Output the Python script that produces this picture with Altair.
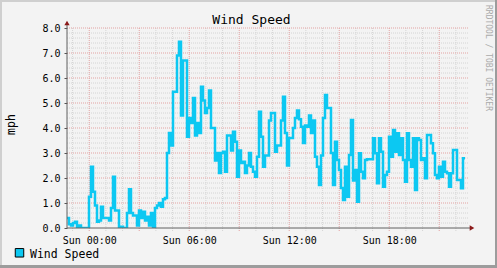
import altair as alt
import pandas as pd
import numpy as np

TITLE = "Wind Speed"
SERIES = "Wind Speed"
Y_TITLE = "mph"
WATERMARK = "RRDTOOL / TOBI OETIKER"

# wind speed (mph), one reading every 7.2 minutes starting Sat 22:40
speed = [
    0.4, 0.15, 0.1, 0.2, 0.25, 0.05, 0.1, 0.0, 0.0, 0.0,
    0.0, 1.25, 2.45, 1.45, 0.9, 0.25, 0.3, 0.85, 0.4, 0.4,
    0.4, 0.3, 0.8, 2.05, 0.7, 0.7, 0.0, 0.05, 0.0, 0.0,
    0.6, 1.55, 0.6, 0.5, 0.5, 0.1, 0.7, 0.4, 0.65, 0.3,
    0.45, 0.1, 0.6, 0.0, 0.8, 0.9, 1.0, 0.85, 1.15, 1.2,
    3.0, 3.8, 3.3, 5.45, 5.45, 6.9, 7.45, 4.5, 6.7, 6.7,
    3.65, 4.4, 4.2, 5.2, 3.7, 4.2, 3.8, 5.65, 5.1, 4.6,
    4.8, 5.5, 4.0, 4.0, 2.7, 3.0, 2.2, 3.0, 3.05, 2.25,
    3.7, 3.7, 3.1, 3.85, 3.45, 2.05, 3.1, 2.6, 2.65, 2.2,
    2.5, 3.0, 2.45, 2.25, 2.05, 2.85, 4.65, 3.65, 2.45, 2.9,
    2.9, 4.3, 4.6, 4.6, 3.05, 3.3, 3.3, 4.3, 5.25, 3.8,
    2.5, 3.6, 3.6, 4.0, 4.4, 4.7, 4.35, 4.05, 3.4, 4.1,
    4.05, 4.5, 3.8, 4.3, 2.85, 2.45, 1.72, 2.9, 4.4, 5.32,
    4.8, 4.8, 3.0, 1.72, 3.45, 2.72, 2.32, 1.6, 1.12, 2.45,
    1.25, 2.92, 4.32, 1.9, 2.32, 1.05, 2.99, 2.25, 1.99, 2.72,
    2.75, 2.75, 2.75, 3.59, 2.99, 1.79, 3.59, 3.05, 1.65, 2.12,
    2.25, 3.65, 2.85, 3.92, 3.05, 3.79, 2.92, 3.59, 2.72, 1.85,
    3.79, 2.72, 2.45, 3.59, 1.52, 3.59, 3.52, 2.72, 2.79, 1.99,
    3.72, 3.72, 3.39, 2.99, 2.12, 1.99, 2.45, 2.05, 2.65, 2.25,
    2.19, 1.65, 2.19, 3.12, 3.12, 1.92, 1.92, 1.59, 2.79,
]
START = "2024-01-06 22:40:00"
END = "2024-01-07 22:40:00"
STEP_SECONDS = 432
Y_MAX = 8
TICK_LABEL_HOURS = [0, 6, 12, 18]

start = pd.Timestamp(START)
end = pd.Timestamp(END)
vals = speed + [speed[-1]]
times = [(start + pd.Timedelta(seconds=STEP_SECONDS * i)).strftime("%Y-%m-%dT%H:%M:%S")
         for i in range(len(vals))]
df = pd.DataFrame({"time": times, "value": vals})

# grid lines derived from the scale's range: hourly (major every 3h), every 0.2 mph (major each 1.0)
hours = pd.date_range(start.ceil("h"), end, freq="h")
vgrid = pd.DataFrame({
    "time": [h.strftime("%Y-%m-%dT%H:%M:%S") for h in hours],
    "major": [h.hour % 3 == 0 for h in hours],
})
ylev = [round(i * 0.2, 1) for i in range(1, Y_MAX * 5 + 1)]
hgrid = pd.DataFrame({"value": ylev, "major": [abs(v - round(v)) < 1e-6 for v in ylev]})

FONT = "DejaVu Sans Mono"
MAJOR = "#E3A3A3"
MINOR = "#D4D4D4"
CYAN = "#0CC8F2"

x_scale = alt.Scale(domain=[start.strftime("%Y-%m-%dT%H:%M:%S"), end.strftime("%Y-%m-%dT%H:%M:%S")], nice=False)
y_scale = alt.Scale(domain=[0, Y_MAX], nice=False)

x_axis = alt.Axis(
    values=[alt.DateTime(year=2024, month=1, date=7, hours=h) for h in TICK_LABEL_HOURS],
    format="%a %H:%M",
    grid=False,
    domain=False,
    ticks=False,
    labelFont=FONT,
    labelFontSize=10,
    labelColor="#000000",
    labelPadding=7,
    labelOverlap=False,
    labelFlush=False,
    title=None,
)

y_axis = alt.Axis(
    values=list(range(Y_MAX + 1)),
    format=".1f",
    grid=False,
    domain=False,
    ticks=True,
    tickSize=3,
    tickColor="#555555",
    labelFont=FONT,
    labelFontSize=10,
    labelColor="#000000",
    labelPadding=4,
    labelOverlap=False,
    labelFlush=False,
    title=Y_TITLE,
    titleFont=FONT,
    titleFontSize=11.5,
    titleFontWeight="normal",
    titleColor="#000000",
    titleAngle=270,
    titleX=-56,
    titleY=96,
    titleAlign="center",
    titleBaseline="middle",
)

X = alt.X("time:T", scale=x_scale, axis=x_axis)
Y = alt.Y("value:Q", scale=y_scale, axis=y_axis)

vgrid_minor = alt.Chart(vgrid).transform_filter("!datum.major").mark_rule(
    color=MINOR, strokeDash=[1, 1], strokeWidth=1
).encode(x=X, y=alt.value(0), y2=alt.value(203))
vgrid_major = alt.Chart(vgrid).transform_filter("datum.major").mark_rule(
    color=MAJOR, strokeDash=[1, 1], strokeWidth=1
).encode(x=X, y=alt.value(0), y2=alt.value(203))
hgrid_minor = alt.Chart(hgrid).transform_filter("!datum.major").mark_rule(
    color=MINOR, strokeDash=[1, 1], strokeWidth=1
).encode(y=Y, x=alt.value(0), x2=alt.value(401))
hgrid_major = alt.Chart(hgrid).transform_filter("datum.major").mark_rule(
    color=MAJOR, strokeDash=[1, 1], strokeWidth=1
).encode(y=Y, x=alt.value(0), x2=alt.value(401))

line = alt.Chart(df).mark_line(
    interpolate="step-after", color=CYAN, strokeWidth=2.5, clip=True
).encode(x=X, y=Y)

one = pd.DataFrame({"label": [TITLE]})

y_axis_line = alt.Chart(one).mark_rule(color="#606060", strokeWidth=1).encode(
    x=alt.value(0), y=alt.value(-4), y2=alt.value(200)
)
x_axis_line = alt.Chart(one).mark_rule(color="#606060", strokeWidth=1).encode(
    x=alt.value(0), x2=alt.value(403), y=alt.value(200)
)
arrow_up = alt.Chart(one).mark_point(shape="triangle-up", filled=True, color="#8B1A1A", size=28, opacity=1).encode(
    x=alt.value(0), y=alt.value(-5)
)
arrow_right = alt.Chart(one).mark_point(shape="triangle-right", filled=True, color="#8B1A1A", size=28, opacity=1).encode(
    x=alt.value(405), y=alt.value(200)
)

title = alt.Chart(pd.DataFrame({"label": [TITLE]})).mark_text(
    font=FONT, fontSize=13, color="#000000", align="center", baseline="alphabetic"
).encode(text="label:N", x=alt.value(184.5), y=alt.value(-4))

watermark = alt.Chart(pd.DataFrame({"label": [WATERMARK]})).mark_text(
    font=FONT, fontSize=8, color="#AAAAAA", align="left", baseline="middle", angle=90
).encode(text="label:N", x=alt.value(421), y=alt.value(-23))

legend_sq = alt.Chart(pd.DataFrame({"label": [SERIES]})).mark_square(
    size=72, filled=True, color=CYAN, stroke="#000000", strokeWidth=1, opacity=1
).encode(x=alt.value(-47.5), y=alt.value(224.8))

legend_txt = alt.Chart(pd.DataFrame({"label": [SERIES]})).mark_text(
    font=FONT, fontSize=11.5, color="#000000", align="left", baseline="alphabetic"
).encode(text="label:N", x=alt.value(-37), y=alt.value(230))

border_top = alt.Chart(one).mark_rule(color="#CFCFCF", strokeWidth=2).encode(
    x=alt.value(-67), x2=alt.value(430), y=alt.value(-27)
)
border_left = alt.Chart(one).mark_rule(color="#CFCFCF", strokeWidth=2).encode(
    x=alt.value(-66), y=alt.value(-28), y2=alt.value(240)
)
border_bottom = alt.Chart(one).mark_rule(color="#9C9C9C", strokeWidth=3).encode(
    x=alt.value(-67), x2=alt.value(430), y=alt.value(238.5)
)
border_right = alt.Chart(one).mark_rule(color="#9C9C9C", strokeWidth=2).encode(
    x=alt.value(429), y=alt.value(-28), y2=alt.value(240)
)

chart = alt.layer(
    hgrid_minor, vgrid_minor, hgrid_major, vgrid_major,
    line, y_axis_line, x_axis_line, arrow_up, arrow_right,
    title, watermark, legend_sq, legend_txt,
    border_top, border_left, border_bottom, border_right,
).properties(
    width=400,
    height=200,
    background="#F3F3F3",
    padding={"left": 67, "top": 28, "right": 30, "bottom": 40},
    autosize=alt.AutoSizeParams(type="none"),
).configure_view(stroke=None, fill="#F3F3F3")

chart.save("out.html", embed_options={"renderer": "svg", "actions": False})
